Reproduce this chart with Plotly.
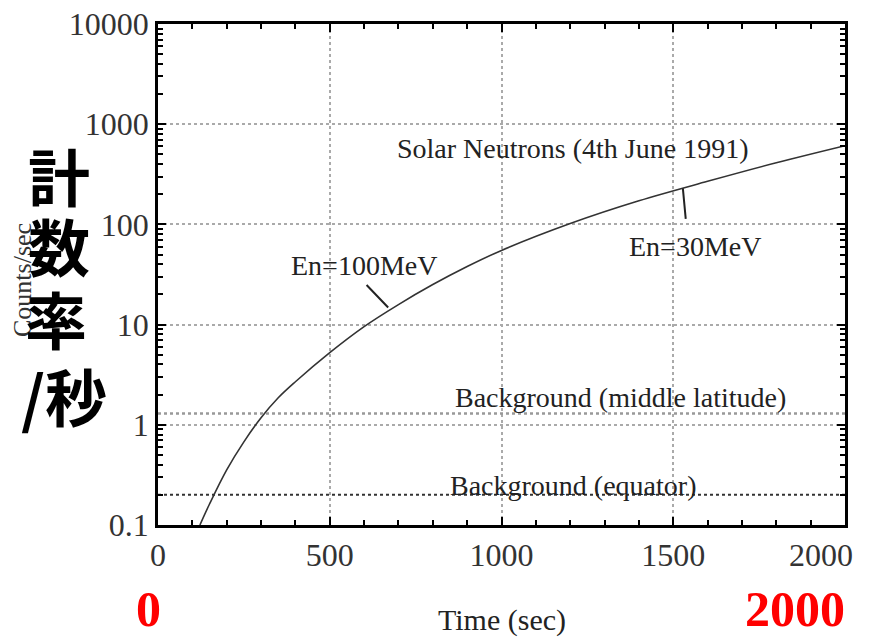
import math
import plotly.graph_objects as go

# ---- data ----
time_s = [122, 150, 200, 250, 300, 350, 400, 500, 600, 700, 800, 900, 1000, 1200, 1400, 1600, 1800, 2000]
counts = [0.1, 0.162, 0.355, 0.676, 1.175, 1.86, 2.69, 5.25, 9.55, 15.85, 25.1, 38.0, 55.0, 102, 172, 269, 412, 610]
bg_mid_lat = 1.3
bg_equator = 0.2
x_ticks = [0, 500, 1000, 1500, 2000]
x_tick_text = ["0", "500", "1000", "1500", "2000&nbsp;&nbsp;&nbsp;&nbsp;&nbsp;&nbsp;"]
y_ticks = [0.1, 1, 10, 100, 1000, 10000]
y_tick_text = ["0.1", "1", "10", "100", "1000", "10000"]
y_minor = [m * d for d in [0.1, 1, 10, 100, 1000] for m in range(2, 10)]

serif = "Liberation Serif"
fig = go.Figure()

fig.add_trace(go.Scatter(x=time_s, y=counts, mode="lines", line=dict(color="#333", width=1.6, shape="spline"),
                         showlegend=False))
fig.add_trace(go.Scatter(x=[0, 2000], y=[bg_mid_lat, bg_mid_lat], mode="lines",
                         line=dict(color="#999", width=2.5, dash="dot"), showlegend=False))
fig.add_trace(go.Scatter(x=[0, 2000], y=[bg_equator, bg_equator], mode="lines",
                         line=dict(color="#333", width=2, dash="dot"), showlegend=False))

axis_common = dict(showline=True, linecolor="black", linewidth=2.5, mirror="ticks",
                   ticks="inside", tickcolor="black", ticklen=8, tickwidth=2,
                   showgrid=True, gridcolor="#aaa", griddash="dot", gridwidth=1.5,
                   zeroline=False, automargin=False, ticklabeloverflow="allow",
                   tickfont=dict(family=serif, size=32, color="#333"))

fig.update_xaxes(range=[0, 2000], tickvals=x_ticks, ticktext=x_tick_text,
                 minor=dict(tickvals=list(range(100, 2000, 100)), ticks="inside", ticklen=5,
                            tickcolor="black", showgrid=False),
                 **axis_common)
fig.update_yaxes(type="log", range=[-1, 4], tickvals=y_ticks, ticktext=y_tick_text,
                 minor=dict(tickvals=y_minor, ticks="inside", ticklen=5, tickcolor="black", showgrid=False),
                 **axis_common)

ann_font = dict(family=serif, size=28, color="#222")
anns = [
    dict(x=1208, y=575, text="Solar Neutrons (4th June 1991)"),
    dict(x=600, y=39, text="En=100MeV"),
    dict(x=1563, y=60, text="En=30MeV"),
    dict(x=1345, y=1.86, text="Background (middle latitude)"),
    dict(x=1208, y=0.25, text="Background (equator)"),
]
for a in anns:
    fig.add_annotation(x=a["x"], y=math.log10(a["y"]), xref="x", yref="y", text=a["text"],
                       xanchor="center", yanchor="middle", showarrow=False, font=ann_font)

# arrows
fig.add_annotation(x=670, y=math.log10(14.8), xref="x", yref="y", text="", showarrow=True,
                   arrowhead=0, arrowwidth=2, arrowcolor="#222", ax=-23, ay=-24)
fig.add_annotation(x=1528, y=math.log10(229), xref="x", yref="y", text="", showarrow=True,
                   arrowhead=0, arrowwidth=2, arrowcolor="#222", ax=3, ay=32)

# page body has an 8px margin: positions below are screenshot pixels
OFF = 8
L, T, W, H = 158 - OFF, 24 - OFF, 687, 501


def P(px, py):
    return (px - 158) / W, (525 - py) / H


def text_at(px, py, text, font, angle=0):
    x, y = P(px, py)
    fig.add_annotation(x=x, y=y, xref="paper", yref="paper", text=text, textangle=angle,
                       xanchor="center", yanchor="middle", showarrow=False, font=font)


# axis titles
text_at(502, 620, "Time (sec)", dict(family=serif, size=30, color="#222"))
text_at(22, 280, "Counts/sec", dict(family=serif, size=26, color="#333"), angle=-90)

# big CJK label
for t, px, py in [("計", 59, 175), ("数", 59, 245), ("率", 56, 318), ("/秒", 64, 395)]:
    text_at(px, py, "<b>" + t + "</b>", dict(family="Noto Sans CJK JP", size=62, color="black"))

# red labels
text_at(148, 609, "<b>0</b>", dict(family=serif, size=50, color="red"))
text_at(795, 609, "<b>2000</b>", dict(family=serif, size=50, color="red"))

fig.update_layout(width=882, height=637,
                  margin=dict(l=L, r=882 - L - W, t=T, b=637 - T - H, autoexpand=False),
                  paper_bgcolor="white", plot_bgcolor="white", showlegend=False)

fig.write_html("out.html")
